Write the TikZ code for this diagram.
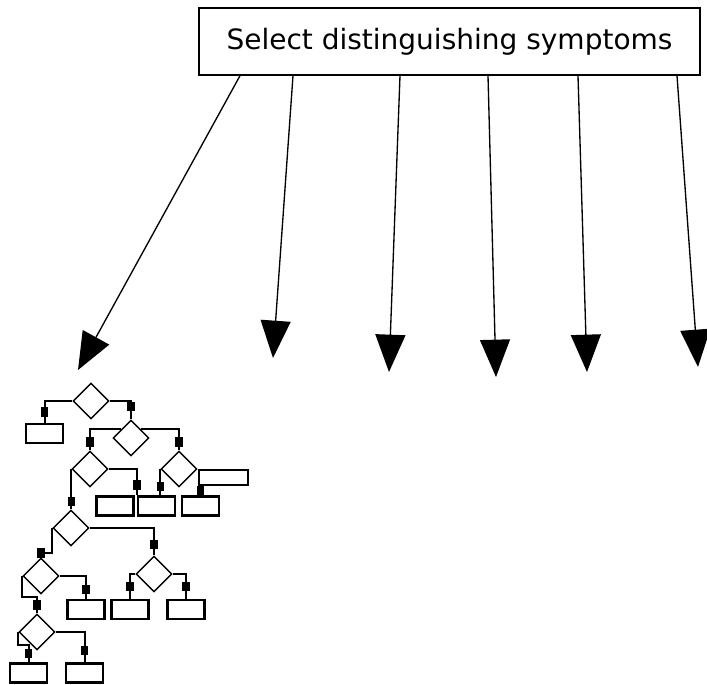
\documentclass[tikz,border=0pt]{standalone}
\usepackage{fontspec}
\setmainfont{DejaVu Sans}
\usetikzlibrary{arrows.meta, shapes.geometric}

\begin{document}
\begin{tikzpicture}[x=0.75pt, y=-0.75pt,
  titlebox/.style={draw, line width=1.1pt, minimum width=375.75pt, minimum height=50.25pt,
    inner sep=0pt, font=\fontsize{21pt}{25pt}\selectfont},
  arr/.style={line width=1pt, -{Triangle[width=22.5pt, length=28pt]}},
  test/.style={draw, diamond, line width=1.1pt, minimum size=27pt, inner sep=0pt},
  leaf/.style={draw, rectangle, line width=1.6pt, minimum width=27.75pt, minimum height=14.25pt, inner sep=0pt},
  conn/.style={line width=1.5pt},
  dot/.style={fill=black, rectangle, minimum width=5.5pt, minimum height=7pt, inner sep=0pt}]

\useasboundingbox (0,0) rectangle (707,685);

% Title box
\node[titlebox] (select) at (449.5,41.5) {Select distinguishing symptoms};

% Arrows down from the title box
\foreach \sx/\tx/\ty [count=\i] in {240/78/370, 293/273/358, 400/389/372, 488/496/377, 578/587/372, 677/698/367} {
  \coordinate (tip\i) at (\tx,\ty);
  \draw[arr] (\sx,0 |- select.south) -- (tip\i);
}

% Decision tree: tests
\node[test] (d1) at (91,401) {};
\node[test] (d2) at (131,438) {};
\node[test] (d3) at (90,469) {};
\node[test] (d4) at (179,469) {};
\node[test] (d5) at (71,528) {};
\node[test] (d6) at (154,574) {};
\node[test] (d7) at (41,576) {};
\node[test] (d8) at (37,632) {};

% Decision tree: leaves
\node[leaf] (b1) at (44.5,433.5) {};
\node[leaf] (bA) at (115,506) {};
\node[leaf] (bB) at (156.5,506) {};
\node[leaf] (bC) at (200.5,506) {};
\node[leaf] (bD) at (130,609.5) {};
\node[leaf] (bE) at (186,609.5) {};
\node[leaf] (bF) at (86,609.5) {};
\node[leaf] (bG) at (84.5,673) {};
\node[leaf] (bH) at (28.5,673) {};
\node[leaf, anchor=north west, minimum width=36.75pt, minimum height=11.25pt] (r4) at (d4.east) {};

% Decision tree: branches
\draw[conn] (d1.west) -| (b1.north) node[dot, pos=0.75] {};
\draw[conn] (d1.east) -| (d2.north) node[dot, pos=0.65] {};
\draw[conn] (d2.140) -| (d3.north) node[dot, pos=0.8] {};
\draw[conn] (d2.40) -| (d4.north) node[dot, pos=0.8] {};
\draw[conn] (d3.east) -| (bB.north west) node[dot, pos=0.8] {};
\draw[conn] (d4.west) -- (d4.west |- bB.north) node[dot, pos=0.65] {};
\draw[conn] (bC.north |- r4.south) -- (bC.north) node[dot, pos=0.45] {};
\draw[conn] (d3.west) -- (d3.west |- d5.north) node[dot, pos=0.8] {};
\draw[conn] (d5.east) -| (d6.north) node[dot, pos=0.8] {};
\draw[conn] (d6.west) -| (bD.north) node[dot, pos=0.75] {};
\draw[conn] (d6.east) -| (bE.north) node[dot, pos=0.75] {};
\draw[conn] (d5.west) -- ++(0,25) -| (d7.north) node[dot, pos=0.5] {};
\draw[conn] (d7.east) -| (bF.north) node[dot, pos=0.8] {};
\draw[conn] (d7.west) -- ++(0,21) -| (d8.north) node[dot, pos=0.75] {};
\draw[conn] (d8.east) -| (bG.north) node[dot, pos=0.8] {};
\draw[conn] (d8.west) -- ++(0,13) -| (bH.north) node[dot, pos=0.75] {};

\end{tikzpicture}
\end{document}
